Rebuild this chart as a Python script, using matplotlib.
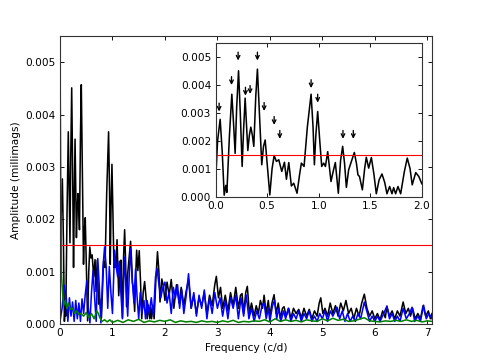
import numpy as np
import matplotlib
matplotlib.use("Agg")
import matplotlib.pyplot as plt
from matplotlib.ticker import FormatStrFormatter, MultipleLocator

# amplitudes in units of 1e-3 (converted below)
black_freq = [
    0.0, 0.02, 0.045, 0.065, 0.084, 0.1, 0.11, 0.135, 0.158, 0.175, 0.19, 0.205,
    0.223, 0.24, 0.258, 0.272, 0.287, 0.3, 0.313, 0.328, 0.342, 0.357, 0.371,
    0.39, 0.406, 0.425, 0.448, 0.465, 0.481, 0.5, 0.526, 0.548, 0.568, 0.59,
    0.613, 0.642, 0.668, 0.687, 0.71, 0.735, 0.758, 0.79, 0.815, 0.832, 0.858,
    0.89, 0.926, 0.945, 0.958, 0.972, 0.99, 1.01, 1.029, 1.048, 1.065, 1.087,
    1.105, 1.119, 1.14, 1.161, 1.19, 1.212, 1.232, 1.25, 1.268, 1.29, 1.32,
    1.345, 1.365, 1.38, 1.395, 1.423, 1.445, 1.461, 1.484, 1.51, 1.535, 1.558,
    1.585, 1.613, 1.64, 1.661, 1.687, 1.71, 1.726, 1.745, 1.768, 1.794, 1.83,
    1.858, 1.885, 1.906, 1.94, 1.97, 2.0,
    2.04, 2.08, 2.12, 2.17, 2.22, 2.27, 2.31, 2.36, 2.4, 2.45, 2.5, 2.55, 2.6,
    2.65, 2.7, 2.75, 2.8, 2.85, 2.9, 2.95, 2.98, 3.02, 3.06, 3.1, 3.15, 3.2,
    3.25, 3.3, 3.35, 3.4, 3.44, 3.47, 3.5, 3.54, 3.57, 3.61, 3.65, 3.7, 3.74,
    3.78, 3.82, 3.86, 3.89, 3.93, 3.97, 4.0, 4.04, 4.08, 4.12, 4.16, 4.2, 4.24,
    4.27, 4.31, 4.36, 4.4, 4.45, 4.5, 4.55, 4.6, 4.65, 4.7, 4.75, 4.8, 4.85,
    4.9, 4.94, 4.97, 5.01, 5.05, 5.1, 5.15, 5.2, 5.25, 5.3, 5.35, 5.4, 5.45,
    5.5, 5.55, 5.6, 5.65, 5.7, 5.75, 5.8, 5.85, 5.9, 5.95, 6.0, 6.05, 6.1,
    6.15, 6.2, 6.23, 6.28, 6.33, 6.38, 6.43, 6.48, 6.54, 6.59, 6.64, 6.68,
    6.72, 6.77, 6.82, 6.87, 6.92, 6.97, 7.02, 7.06, 7.09,
]
black_amp = [
    0.45, 2.0, 2.77, 1.6, 0.05, 0.4, 0.15, 2.2, 3.67, 2.6, 1.55, 3.2,
    4.51, 3.0, 1.08, 2.4, 3.53, 2.6, 1.65, 2.2, 2.49, 2.2, 1.8,
    3.6, 4.57, 3.0, 1.14, 1.8, 2.03, 1.2, 0.06, 1.0, 1.47, 1.26,
    1.32, 0.9, 1.23, 0.62, 1.22, 0.38, 0.48, 0.12, 0.8, 1.2, 1.08,
    2.5, 3.67, 2.5, 1.14, 2.2, 3.05, 2.0, 1.08, 1.2, 1.08, 1.61,
    1.0, 0.54, 0.9, 1.22, 0.12, 1.3, 1.8, 1.2, 0.33, 0.96, 1.3,
    1.58, 1.2, 0.78, 0.72, 0.24, 1.0, 1.41, 1.02, 1.4, 0.8, 0.1,
    0.6, 0.81, 0.5, 0.1, 0.36, 0.1, 0.32, 0.1, 0.36, 0.1, 0.9,
    1.38, 1.0, 0.42, 0.86, 0.72, 0.45,
    0.8, 0.55, 0.85, 0.3, 0.75, 0.4, 0.7, 0.35, 0.6, 0.85, 0.3, 0.55, 0.2,
    0.5, 0.35, 0.6, 0.2, 0.55, 0.35, 0.75, 0.91, 0.5, 0.7, 0.3, 0.55, 0.25,
    0.6, 0.35, 0.7, 0.3, 0.55, 0.58, 0.2, 0.6, 0.72, 0.2, 0.4, 0.15, 0.35,
    0.2, 0.45, 0.3, 0.55, 0.2, 0.45, 0.15, 0.4, 0.56, 0.2, 0.4, 0.1, 0.3,
    0.33, 0.15, 0.3, 0.1, 0.3, 0.2, 0.28, 0.12, 0.3, 0.15, 0.28, 0.1, 0.25,
    0.15, 0.4, 0.5, 0.2, 0.3, 0.15, 0.4, 0.2, 0.35, 0.15, 0.4, 0.25, 0.45,
    0.2, 0.3, 0.1, 0.3, 0.15, 0.4, 0.57, 0.3, 0.15, 0.25, 0.1, 0.2, 0.08,
    0.25, 0.12, 0.34, 0.15, 0.25, 0.1, 0.25, 0.15, 0.42, 0.2, 0.3, 0.15,
    0.3, 0.1, 0.2, 0.1, 0.35, 0.15, 0.25, 0.1, 0.2,
]

blue_freq = [
    0.0, 0.04, 0.08, 0.12, 0.15, 0.18, 0.21, 0.24, 0.27, 0.3, 0.33, 0.36, 0.39,
    0.42, 0.45, 0.48, 0.51, 0.54, 0.57, 0.6, 0.63, 0.66, 0.69, 0.72, 0.75,
    0.78, 0.82, 0.85, 0.88, 0.91, 0.94, 0.97, 1.0, 1.04, 1.07, 1.1, 1.13,
    1.16, 1.19, 1.23, 1.26, 1.29, 1.34, 1.38, 1.41, 1.44, 1.47, 1.5, 1.53,
    1.56, 1.6, 1.63, 1.66, 1.7, 1.74, 1.78, 1.82, 1.85, 1.88, 1.92, 1.96,
    2.0, 2.04, 2.08, 2.12, 2.16, 2.2, 2.24, 2.28, 2.32, 2.36, 2.4, 2.45, 2.5,
    2.55, 2.6, 2.65, 2.7, 2.75, 2.8, 2.85, 2.9, 2.95, 3.0, 3.05, 3.1, 3.15,
    3.2, 3.25, 3.3, 3.35, 3.4, 3.45, 3.5, 3.55, 3.6, 3.65, 3.7, 3.75, 3.8,
    3.85, 3.89, 3.93, 3.97, 4.0, 4.05, 4.09, 4.13, 4.17, 4.21, 4.26, 4.3,
    4.35, 4.4, 4.45, 4.5, 4.55, 4.6, 4.65, 4.7, 4.75, 4.8, 4.85, 4.9, 4.95,
    5.0, 5.05, 5.1, 5.15, 5.2, 5.28, 5.33, 5.38, 5.43, 5.48, 5.53, 5.58,
    5.63, 5.68, 5.73, 5.8, 5.86, 5.9, 5.95, 6.0, 6.05, 6.1, 6.17, 6.23, 6.28,
    6.33, 6.38, 6.43, 6.48, 6.54, 6.6, 6.66, 6.71, 6.76, 6.82, 6.87, 6.93,
    6.98, 7.03, 7.09,
]
blue_amp = [
    0.05, 0.3, 0.74, 0.5, 0.05, 0.5, 0.15, 0.42, 0.05, 0.45, 0.1, 0.4, 0.05,
    0.48, 0.2, 0.55, 0.82, 0.3, 0.02, 0.6, 1.02, 0.5, 0.05, 1.25, 0.7,
    0.02, 1.1, 1.47, 1.1, 0.3, 1.1, 0.6, 0.2, 1.41, 1.1, 0.9, 1.2,
    0.6, 0.1, 1.28, 0.7, 0.15, 1.44, 0.8, 0.4, 1.05, 0.5, 0.1, 0.6,
    0.2, 0.45, 0.1, 0.45, 0.2, 0.5, 0.15, 0.9, 1.06, 0.8, 0.5, 0.7,
    0.8, 0.4, 0.6, 0.2, 0.7, 0.5, 0.75, 0.3, 0.65, 0.2, 0.5, 0.96, 0.3,
    0.6, 0.15, 0.55, 0.3, 0.65, 0.1, 0.5, 0.2, 0.6, 0.3, 0.5, 0.15, 0.45,
    0.1, 0.5, 0.3, 0.55, 0.1, 0.5, 0.15, 0.55, 0.1, 0.3, 0.05, 0.25, 0.1,
    0.35, 0.4, 0.1, 0.3, 0.05, 0.35, 0.45, 0.1, 0.3, 0.05, 0.25, 0.1,
    0.3, 0.05, 0.2, 0.1, 0.25, 0.05, 0.2, 0.1, 0.25, 0.05, 0.15, 0.05, 0.2,
    0.1, 0.25, 0.05, 0.25, 0.15, 0.32, 0.1, 0.25, 0.05, 0.2, 0.05, 0.15,
    0.05, 0.2, 0.1, 0.42, 0.2, 0.05, 0.15, 0.05, 0.15, 0.05, 0.2, 0.34, 0.1,
    0.2, 0.05, 0.15, 0.05, 0.3, 0.1, 0.2, 0.32, 0.05, 0.15, 0.05, 0.36,
    0.1, 0.2, 0.1,
]

green_freq = [
    0.0, 0.01, 0.02, 0.03, 0.05, 0.07, 0.1, 0.13, 0.16, 0.2, 0.24, 0.28, 0.32,
    0.36, 0.4, 0.45, 0.5, 0.55, 0.6, 0.65, 0.7, 0.73, 0.76, 0.8, 0.85, 0.9,
    0.95, 1.0, 1.1, 1.2, 1.3, 1.4, 1.5, 1.6, 1.7, 1.8, 1.9, 2.0, 2.1, 2.2,
    2.3, 2.4, 2.5, 2.6, 2.7, 2.8, 2.9, 3.0, 3.1, 3.2, 3.3, 3.4, 3.5, 3.6,
    3.7, 3.8, 3.9, 4.0, 4.1, 4.2, 4.3, 4.4, 4.5, 4.6, 4.7, 4.8, 4.9, 5.0,
    5.1, 5.2, 5.3, 5.4, 5.5, 5.6, 5.7, 5.8, 5.9, 6.0, 6.1, 6.2, 6.3, 6.4,
    6.5, 6.6, 6.7, 6.8, 6.9, 7.0, 7.09,
]
green_amp = [
    5.2, 3.5, 1.6, 0.9, 0.6, 0.35, 0.45, 0.3, 0.4, 0.28, 0.3, 0.2, 0.25,
    0.18, 0.2, 0.15, 0.22, 0.12, 0.2, 0.1, 0.25, 0.2, 0.12, 0.05, 0.08, 0.04,
    0.08, 0.03, 0.07, 0.03, 0.08, 0.05, 0.09, 0.03, 0.06, 0.04, 0.07, 0.05, 0.08, 0.03,
    0.06, 0.04, 0.05, 0.03, 0.06, 0.04, 0.05, 0.03, 0.06, 0.04, 0.07, 0.03, 0.05, 0.04,
    0.06, 0.05, 0.08, 0.04, 0.1, 0.05, 0.08, 0.05, 0.07, 0.04, 0.08, 0.06, 0.05, 0.1,
    0.06, 0.11, 0.07, 0.09, 0.05, 0.06, 0.09, 0.12, 0.06, 0.05, 0.04, 0.06, 0.05, 0.07,
    0.05, 0.08, 0.05, 0.07, 0.04, 0.06, 0.05,
]

threshold = 1.5  # 1e-3

# arrows in the inset: frequency and tip height (1e-3)
arrow_freq = [0.035, 0.155, 0.219, 0.29, 0.335, 0.406, 0.471, 0.568, 0.623,
              0.926, 0.99, 1.235, 1.335]
arrow_tip = [3.05, 4.0, 4.88, 3.62, 3.68, 4.88, 3.07, 2.57, 2.07,
             3.89, 3.37, 2.07, 2.07]

SCALE = 1e-3

plt.rcParams.update({
    "font.family": "DejaVu Sans",
    "font.size": 9.5,
    "xtick.direction": "in",
    "ytick.direction": "in",
    "xtick.top": True,
    "ytick.right": True,
    "xtick.major.size": 4,
    "ytick.major.size": 4,
    "xtick.major.pad": 4,
    "ytick.major.pad": 4,
    "axes.linewidth": 1.0,
    "axes.edgecolor": "#333333",
})

fig = plt.figure(figsize=(6, 4.5), dpi=80)
ax = fig.add_axes([0.125, 0.1, 0.775, 0.8])

ax.plot(black_freq, np.array(black_amp) * SCALE, color="black", lw=1.4)
ax.plot(blue_freq, np.array(blue_amp) * SCALE, color="blue", lw=1.4)
ax.plot(green_freq, np.array(green_amp) * SCALE, color="green", lw=1.4)
ax.axhline(threshold * SCALE, color="red", lw=1.0)

ax.set_xlim(0, 7.09)
ax.set_ylim(0, 0.0055)
ax.xaxis.set_major_locator(MultipleLocator(1))
ax.yaxis.set_major_locator(MultipleLocator(0.001))
ax.yaxis.set_major_formatter(FormatStrFormatter("%.3f"))
ax.set_xlabel("Frequency (c/d)")
ax.set_ylabel("Amplitude (millimags)")

# inset: zoom on 0-2 c/d
ins = fig.add_axes([0.449, 0.454, 0.43, 0.426])
ins.plot(black_freq, np.array(black_amp) * SCALE, color="black", lw=1.4)
ins.axhline(threshold * SCALE, color="red", lw=1.0)
for f, tip in zip(arrow_freq, arrow_tip):
    ins.annotate("", xy=(f, tip * SCALE), xytext=(f, (tip + 0.3) * SCALE),
                 arrowprops=dict(arrowstyle="->", color="black", lw=1.2,
                                 shrinkA=0, shrinkB=0, mutation_scale=8))
ins.set_xlim(0, 2)
ins.set_ylim(0, 0.0055)
ins.xaxis.set_major_locator(MultipleLocator(0.5))
ins.xaxis.set_major_formatter(FormatStrFormatter("%.1f"))
ins.yaxis.set_major_locator(MultipleLocator(0.001))
ins.yaxis.set_major_formatter(FormatStrFormatter("%.3f"))

fig.savefig("out.png", dpi=80, facecolor="white")
